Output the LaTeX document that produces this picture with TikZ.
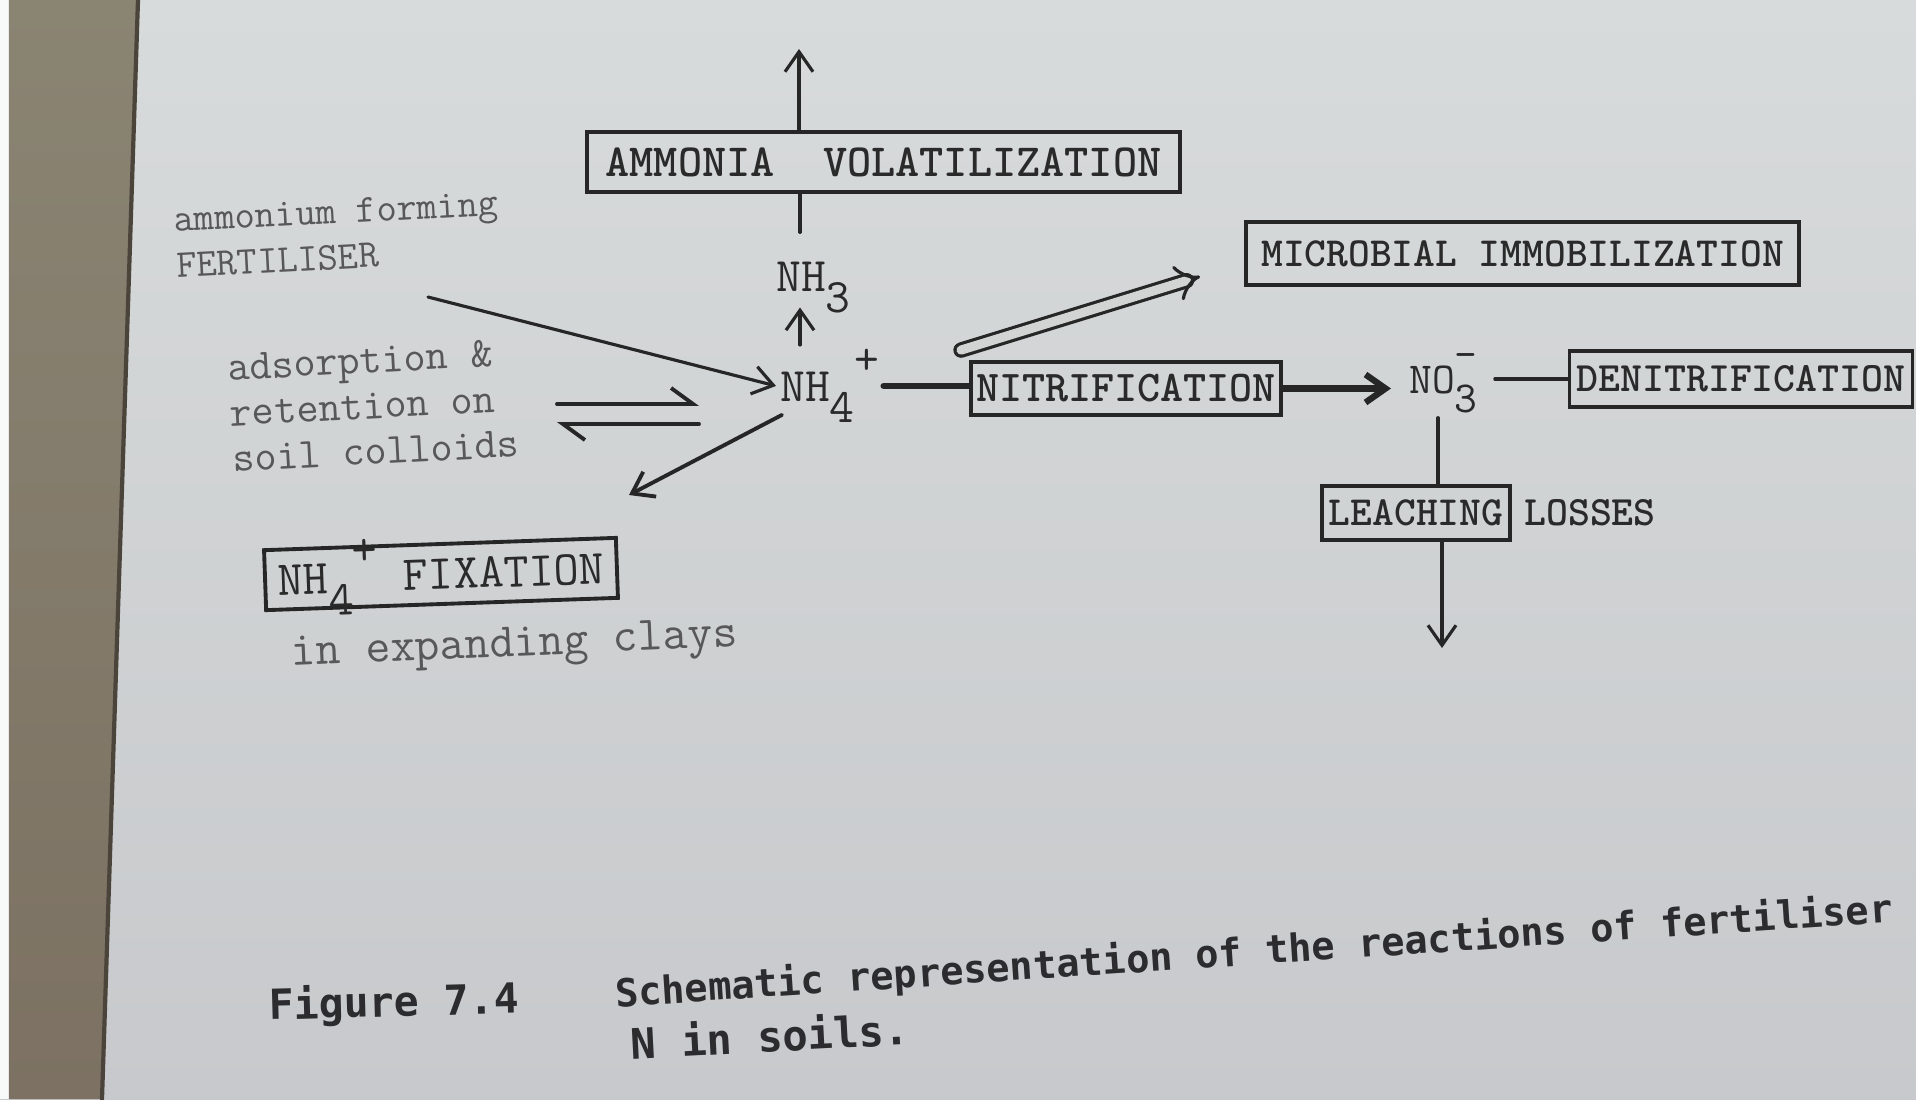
\documentclass[tikz,border=0pt]{standalone}
\usepackage{fontspec}
\newfontfamily\captfont{DejaVu Sans Mono}
\usepackage{xcolor}
\usepackage{tikz}
\usetikzlibrary{arrows}
\usetikzlibrary{arrows.meta}
\usetikzlibrary{positioning}
\definecolor{papertop}{RGB}{216,219,219}
\definecolor{paperbot}{RGB}{199,201,204}
\definecolor{paper}{RGB}{210,212,212}
\definecolor{desktop}{RGB}{138,132,115}
\definecolor{deskbot}{RGB}{124,113,98}
\definecolor{ink}{RGB}{38,38,38}
\definecolor{typeink}{RGB}{42,42,42}
\definecolor{fadeink}{RGB}{88,88,90}
\definecolor{captink}{RGB}{44,44,46}
\newcommand{\typed}[2]{\ttfamily\fontsize{#1pt}{#2pt}\selectfont}
\newcommand{\nsub}[1]{\raisebox{-0.45em}{#1}}
\newcommand{\nsup}[1]{\raisebox{0.55em}{#1}}
\tikzset{
    proc_box/.style = {draw=ink, line width=1.1pt, inner sep=1pt, text=typeink, align=center},
    species_node/.style = {inner sep=1pt, text=typeink, anchor=base west},
    note_text/.style = {inner sep=1pt, text=fadeink, align=left},
    capt_text/.style = {inner sep=1pt, text=captink, font=\captfont\bfseries},
    ink_line/.style = {draw=ink, line width=0.9pt},
    thick_line/.style = {draw=ink, line width=1.8pt},
    dbl_arrow/.style = {draw=ink, line width=0.9pt, double=paper, double distance=2.6pt, -{Implies}},
    eq_harpoon/.style = {draw=ink, line width=1.1pt, -{Straight Barb[left, length=0.22cm, width=0.32cm]}}
}

\begin{document}
\begin{tikzpicture}[-, >={Straight Barb[length=0.2cm, width=0.28cm]}, line cap=round]
    % page and desk
    \useasboundingbox (0,0) rectangle (19.16,-10.99);
    \shade[top color=papertop, bottom color=paperbot] (0,0) rectangle (19.16,-10.99);
    \fill[white!85!paper] (0,0) rectangle (0.09,-10.99);
    \shade[top color=desktop, bottom color=deskbot] (0.09,0) -- (1.38,0) -- (1.02,-10.99) -- (0.09,-10.99) -- cycle;
    \draw[deskbot!60!black, line width=1.2pt] (1.38,0) -- (1.02,-10.99);

    % boxes
    \node[proc_box, font=\typed{13.1}{15}\bfseries, minimum width=5.93cm, minimum height=0.6cm] (amvol) at (8.835,-1.62) {AMMONIA~~VOLATILIZATION};
    \node[proc_box, font=\typed{11.8}{13}\bfseries, minimum width=5.53cm, minimum height=0.63cm] (micro) at (15.225,-2.535) {MICROBIAL IMMOBILIZATION};
    \node[proc_box, font=\typed{12.5}{14}\bfseries, minimum width=3.1cm, minimum height=0.53cm] (nitr) at (11.26,-3.885) {NITRIFICATION};
    \node[proc_box, font=\typed{11.9}{13}\bfseries, minimum width=3.43cm, minimum height=0.56cm] (denit) at (17.41,-3.79) {DENITRIFICATION};
    \node[proc_box, font=\typed{11.8}{13}\bfseries, minimum width=1.88cm, minimum height=0.54cm] (leach) at (14.16,-5.13) {LEACHING};
    \node[species_node, font=\typed{11.9}{13}\bfseries, anchor=west, right=0.08cm of leach] (losses) {LOSSES};
    \node[proc_box, font=\typed{13.9}{15}, inner ysep=-3pt, minimum width=3.52cm, minimum height=0.6cm, rotate=2] (fix) at (4.41,-5.74) {NH\nsub{4}\nsup{+}~FIXATION};

    % species
    \node[species_node, font=\typed{13.7}{15}] (nh3) at (7.72,-2.91) {NH\nsub{3}};
    \node[species_node, font=\typed{13.7}{15}] (nh4) at (7.76,-4.01) {NH\nsub{4}\nsup{+}};
    \node[species_node, font=\typed{12.6}{14}] (no3) at (14.05,-3.93) {NO\rlap{\nsup{-}}\nsub{3}};

    % notes
    \node[note_text, font=\typed{11.2}{13}, anchor=west, rotate=3] (fert) at (1.71,-2.43) {ammonium forming\\FERTILISER};
    \node[note_text, font=\typed{12.2}{13}, anchor=west, rotate=3] (ads) at (2.26,-4.13) {adsorption \&\\retention on\\soil colloids};
    \node[note_text, font=\typed{13.7}{15}, rotate=2.5] (clays) at (5.145,-6.47) {in expanding clays};

    % caption
    \node[capt_text, font=\captfont\bfseries\fontsize{11.8pt}{14pt}\selectfont, rotate=1.5] (capt_fig) at (3.94,-10.04) {Figure 7.4};
    \node[capt_text, font=\captfont\bfseries\fontsize{11pt}{13pt}\selectfont, rotate=3.8] (capt_main) at (12.54,-9.53) {Schematic representation of the reactions of fertiliser};
    \node[capt_text, font=\captfont\bfseries\fontsize{12pt}{14pt}\selectfont, rotate=3] (capt_cont) at (7.70,-10.35) {N in soils.};

    % free ends
    \coordinate (nhcol) at (8.0,0);
    \coordinate (volout) at (7.99,-0.49);
    \coordinate (fertout) at (4.28,-2.97);
    \coordinate (eq_l) at (5.57,-4.14);
    \coordinate (eq_r) at (6.99,-4.14);
    \coordinate (fixin) at (6.29,-4.95);
    \coordinate (lcol) at (14.38,0);
    \coordinate (leachout) at (14.42,-6.48);

    % connectors
    \draw[ink_line, ->] (amvol.north -| volout) -- (volout);
    \draw[ink_line, shorten <=0.25cm] (nh3.north -| nhcol) -- (amvol.south -| nhcol);
    \draw[ink_line, ->, shorten >=-0.1cm] (nh4.north -| nhcol) -- (nh3.south -| nhcol);
    \draw[ink_line, ->] (fertout) -- (nh4.west);
    \draw[eq_harpoon] ([yshift=0.1cm]eq_l) -- ([yshift=0.1cm]eq_r);
    \draw[eq_harpoon] ([yshift=-0.1cm]eq_r) -- ([yshift=-0.1cm]eq_l);
    \draw[ink_line, line width=1.1pt, ->] ([shift={(0.06,0.12)}]nh4.south west) -- (fixin);
    \draw[thick_line] (nh4.east) -- (nh4.east -| nitr.west);
    \draw[dbl_arrow] ([shift={(-0.08,0.1)}]nitr.north west) -- ([shift={(-0.44,-0.23)}]micro.west);
    \draw[thick_line, ->, shorten >=0.14cm] (nitr.east) -- (nitr.east -| no3.west);
    \draw[ink_line, shorten <=0.13cm] (no3.east |- denit.west) -- (denit.west);
    \draw[ink_line] (no3.south -| lcol) -- (leach.north -| lcol);
    \draw[ink_line, ->] (leach.south -| leachout) -- (leachout);
\end{tikzpicture}
\end{document}
